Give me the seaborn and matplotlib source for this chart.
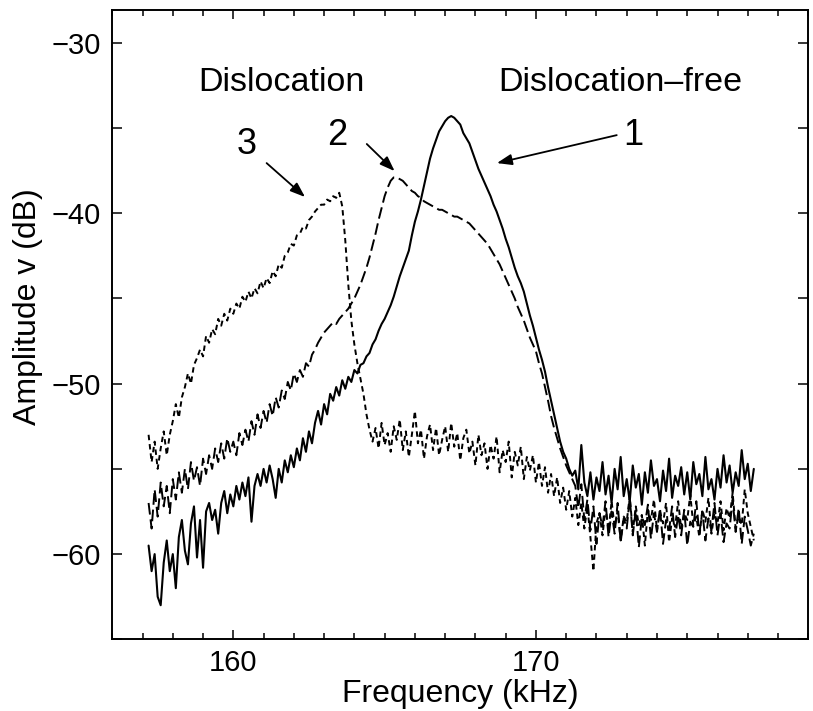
import numpy as np
import matplotlib
matplotlib.use("Agg")
import matplotlib.pyplot as plt
import seaborn as sns
from matplotlib.ticker import MultipleLocator, FuncFormatter

sns.set_style("ticks")
plt.rcParams["font.family"] = ["Liberation Sans", "DejaVu Sans"]
plt.rcParams["axes.unicode_minus"] = True
plt.rcParams["text.color"] = "black"

# ---------------- data ----------------
freq_start = 157.2   # kHz, first sample
freq_step = 0.1      # kHz, sample spacing

# curve 1: dislocation-free (solid)
amp1 = [
    -59.5, -61.0, -60.0, -62.5, -63.0, -60.5, -59.2, -61.0,
    -60.0, -62.0, -59.0, -58.0, -59.8, -60.6, -58.2, -57.2, -60.2, -58.0,
    -60.8, -57.5, -57.0, -58.0, -57.4, -58.8, -57.0, -56.3, -57.6, -56.5,
    -57.2, -56.0, -56.8, -55.8, -56.6, -55.5, -58.1, -56.0, -55.3, -56.0,
    -55.0, -55.8, -54.8, -55.6, -56.7, -55.0, -55.8, -54.5, -55.2, -54.2,
    -54.9, -53.8, -54.5, -53.2, -54.0, -52.8, -53.5, -52.3, -51.6, -52.4,
    -51.2, -51.8, -50.6, -51.0, -50.2, -50.7, -49.8, -50.3, -49.6, -49.9,
    -49.2, -49.4, -48.9, -48.8, -48.4, -48.2, -47.7, -47.4, -46.9, -46.5,
    -46.2, -45.8, -45.4, -44.9, -44.3, -43.7, -43.2, -42.7, -42.2, -41.3,
    -40.5, -39.9, -39.2, -38.4, -37.6, -36.8, -36.2, -35.7, -35.2, -34.9,
    -34.6, -34.4, -34.3, -34.4, -34.6, -34.8, -35.3, -35.6, -35.9, -36.4,
    -36.9, -37.4, -37.8, -38.2, -38.6, -39.0, -39.5, -39.9, -40.4, -40.9,
    -41.5, -42.0, -42.6, -43.2, -43.7, -44.1, -44.6, -45.3, -46.0, -46.6,
    -47.3, -48.0, -48.6, -49.3, -50.2, -51.0, -51.8, -52.6, -53.4, -54.0,
    -54.4, -55.0, -55.4, -55.1, -56.2, -53.6, -55.8, -56.6, -55.2, -56.8,
    -55.5, -56.3, -54.6, -56.5, -55.4, -57.0, -55.0, -56.2, -54.3, -56.6,
    -55.6, -56.9, -54.8, -56.1, -55.3, -57.1, -55.2, -56.4, -54.5, -56.0,
    -55.6, -56.9, -55.1, -56.3, -54.4, -56.7, -55.4, -56.0, -54.9, -56.5,
    -55.2, -56.8, -54.6, -55.9, -55.3, -56.6, -54.3, -56.2, -55.6, -56.8,
    -55.0, -56.1, -54.2, -55.8, -54.8, -56.4, -55.2, -56.0, -53.9, -55.6,
    -54.7, -56.3, -55.0,
]

# curve 2: dislocation (long dashes)
amp2 = [
    -57.0, -58.5, -56.2, -57.8, -55.8, -57.2, -56.0, -57.6,
    -55.6, -56.8, -55.2, -56.4, -55.0, -56.2, -54.6, -55.7, -54.9, -56.0,
    -54.4, -55.3, -54.2, -55.0, -53.8, -54.6, -53.5, -54.4, -53.2, -54.0,
    -53.4, -54.2, -52.9, -53.6, -52.7, -53.4, -52.2, -53.0, -51.8, -52.6,
    -51.6, -52.3, -51.2, -51.9, -50.8, -51.4, -50.4, -50.9, -49.9, -50.4,
    -49.4, -49.9, -49.2, -49.6, -48.8, -49.0, -48.3, -48.0, -47.6, -47.3,
    -47.0, -46.8, -46.6, -46.4, -46.5, -46.2, -46.0, -45.8, -45.6, -45.3,
    -45.0, -44.6, -44.2, -43.7, -43.2, -42.6, -41.9, -41.2, -40.4, -39.7,
    -39.0, -38.5, -38.1, -37.9, -37.9, -38.0, -38.1, -38.3, -38.5, -38.7,
    -38.8, -39.0, -39.1, -39.3, -39.4, -39.5, -39.6, -39.7, -39.8, -39.8,
    -39.9, -40.0, -40.1, -40.2, -40.2, -40.3, -40.4, -40.5, -40.6, -40.8,
    -41.0, -41.2, -41.4, -41.6, -41.8, -42.1, -42.4, -42.7, -43.0, -43.4,
    -43.8, -44.2, -44.6, -45.0, -45.5, -45.9, -46.3, -46.8, -47.3, -47.7,
    -48.1, -48.8, -49.4, -50.2, -51.0, -51.9, -52.6, -53.2, -53.8, -54.3,
    -54.8, -55.2, -55.6, -56.0, -57.3, -55.9, -58.0, -56.8, -58.6, -57.2,
    -59.4, -57.6, -58.4, -56.9, -59.0, -57.5, -58.8, -57.0, -59.3, -57.9,
    -58.5, -56.7, -58.9, -57.4, -59.6, -57.8, -58.3, -57.1, -59.1, -57.6,
    -58.7, -57.3, -59.4, -58.0, -58.6, -57.2, -59.0, -57.7, -58.9, -57.4,
    -59.5, -58.1, -58.4, -56.9, -58.8, -57.5, -59.2, -57.9, -58.6, -57.0,
    -58.9, -57.6, -59.3, -58.2, -58.5, -56.8, -58.7, -57.3, -59.4, -57.8,
    -58.6, -59.5, -58.8,
]

# curve 3: dislocation (short dashes)
amp3 = [
    -53.0, -54.6, -53.4, -55.0, -53.8, -52.8, -54.2, -53.0,
    -52.2, -51.2, -52.0, -50.8, -50.2, -49.4, -50.0, -48.9, -48.5, -48.0,
    -48.4, -47.2, -47.6, -46.8, -47.1, -46.2, -46.6, -45.9, -46.3, -45.6,
    -45.9, -45.3, -45.6, -44.9, -45.2, -44.6, -45.0, -44.4, -44.7, -44.0,
    -44.4, -43.8, -44.1, -43.4, -43.7, -43.0, -43.2, -42.5, -42.3, -41.8,
    -41.9, -41.3, -41.2, -40.8, -40.9, -40.4, -40.2, -39.9, -39.7, -39.5,
    -39.5, -39.2, -39.3, -39.0, -39.1, -38.8, -39.6, -41.6, -44.2, -46.3,
    -47.7, -48.8, -49.7, -50.6, -51.8, -52.7, -53.4, -52.6, -53.8, -52.3,
    -53.6, -52.9, -54.0, -52.5, -53.3, -52.1, -53.9, -52.8, -54.3, -53.0,
    -51.6, -53.5, -52.7, -54.4, -53.1, -52.4, -53.9, -52.6, -54.2, -53.3,
    -52.5, -54.0, -52.3, -53.7, -52.9, -54.5, -53.2, -52.7, -54.1, -53.4,
    -54.8, -53.0, -54.2, -53.5, -55.0, -53.6, -54.4, -53.1, -55.2, -53.9,
    -54.6, -53.4, -55.5, -54.0, -54.8, -53.7, -55.6, -54.3, -55.1, -54.2,
    -55.8, -54.6, -56.0, -54.9, -56.4, -55.3, -56.6, -55.5, -57.0, -56.1,
    -57.4, -56.3, -57.8, -56.7, -58.3, -57.0, -58.5, -57.2, -59.0, -61.0,
    -58.2, -57.6, -58.9, -57.3, -58.6, -56.9, -58.4, -57.5, -59.2, -57.8,
    -58.1, -56.6, -58.7, -57.2, -58.3, -57.7, -59.5, -57.4, -58.0, -56.8,
    -58.6, -57.5, -58.2, -57.0, -59.3, -57.9, -58.4, -56.9, -58.5, -57.6,
    -58.0, -56.5, -58.3, -57.8, -59.0, -57.4, -58.1, -56.7, -58.8, -57.6,
    -58.2, -56.9, -58.6, -57.3, -57.9, -56.4, -58.5, -57.8, -58.3, -56.2,
    -57.6, -58.4, -59.2,
]

x_ticks_major = [160, 170]
y_tick_labels = [-30, -40, -50, -60]
label_x = "Frequency (kHz)"
label_y = "Amplitude v (dB)"
group_labels = ["Dislocation", "Dislocation\u2013free"]
curve_labels = ["1", "2", "3"]

# ---------------- figure ----------------
fig, ax = plt.subplots(figsize=(8.13, 7.11), dpi=100)
fig.subplots_adjust(left=0.1381, right=0.9942, top=0.9859, bottom=0.1008)

styles = [
    (amp2, (0, (6, 2.5)), 1.4),
    (amp3, (0, (2.8, 2.0)), 1.4),
    (amp1, "-", 1.5),
]
for amp, ls, lw in styles:
    freq = np.round(freq_start + freq_step * np.arange(len(amp)), 2)
    sns.lineplot(x=freq, y=amp, ax=ax, color="black", linewidth=lw,
                 linestyle=ls, estimator=None, sort=False)

ax.set_xlim(156.0, 179.0)
ax.set_ylim(-65.0, -28.08)

ax.xaxis.set_major_locator(MultipleLocator(10))
ax.xaxis.set_minor_locator(MultipleLocator(1))
ax.yaxis.set_major_locator(MultipleLocator(5))


def yfmt(v, pos):
    iv = int(round(v))
    if iv in y_tick_labels:
        return ("\u2212" if iv < 0 else "") + str(abs(iv))
    return ""


def xfmt(v, pos):
    iv = int(round(v))
    return str(iv) if iv in x_ticks_major else ""


ax.yaxis.set_major_formatter(FuncFormatter(yfmt))
ax.xaxis.set_major_formatter(FuncFormatter(xfmt))

ax.tick_params(axis="x", which="major", direction="in", top=True, bottom=True,
               length=6.7, width=1.1, labelsize=21, pad=7, colors="black")
ax.tick_params(axis="x", which="minor", direction="in", top=True, bottom=True,
               length=4.0, width=1.1, colors="black")
ax.tick_params(axis="y", which="major", direction="in", left=True, right=True,
               length=7.5, width=1.1, labelsize=21, pad=8.5, colors="black")

for sp in ax.spines.values():
    sp.set_visible(True)
    sp.set_linewidth(1.4)
    sp.set_color("black")

ax.set_xlabel(label_x, fontsize=23, color="black")
ax.xaxis.set_label_coords(0.5, -0.087)
ax.xaxis.label.set_va("center")
ax.set_ylabel(label_y, fontsize=23, color="black")
ax.yaxis.set_label_coords(-0.121, 0.528)
ax.yaxis.label.set_va("center")

# group labels
ax.text(161.6, -32.82, group_labels[0], fontsize=24.5, ha="center",
        va="baseline", color="black")
ax.text(172.8, -32.82, group_labels[1], fontsize=24.5, ha="center",
        va="baseline", color="black")

# curve numbers with arrows
ax.text(173.23, -36.0, curve_labels[0], fontsize=26, ha="center",
        va="baseline", color="black")
ax.text(163.42, -36.0, curve_labels[1], fontsize=26, ha="center",
        va="baseline", color="black")
ax.text(160.45, -36.53, curve_labels[2], fontsize=26, ha="center",
        va="baseline", color="black")

arrow_kw = dict(arrowstyle="-|>,head_length=0.6,head_width=0.22", color="black",
                lw=1.3, mutation_scale=15, shrinkA=0, shrinkB=0)
ax.annotate("", xy=(168.71, -37.06), xytext=(172.67, -35.42), arrowprops=arrow_kw)
ax.annotate("", xy=(165.33, -37.53), xytext=(164.41, -35.94), arrowprops=arrow_kw)
ax.annotate("", xy=(162.37, -39.05), xytext=(161.10, -37.06), arrowprops=arrow_kw)

fig.savefig("out.png", dpi=100)
